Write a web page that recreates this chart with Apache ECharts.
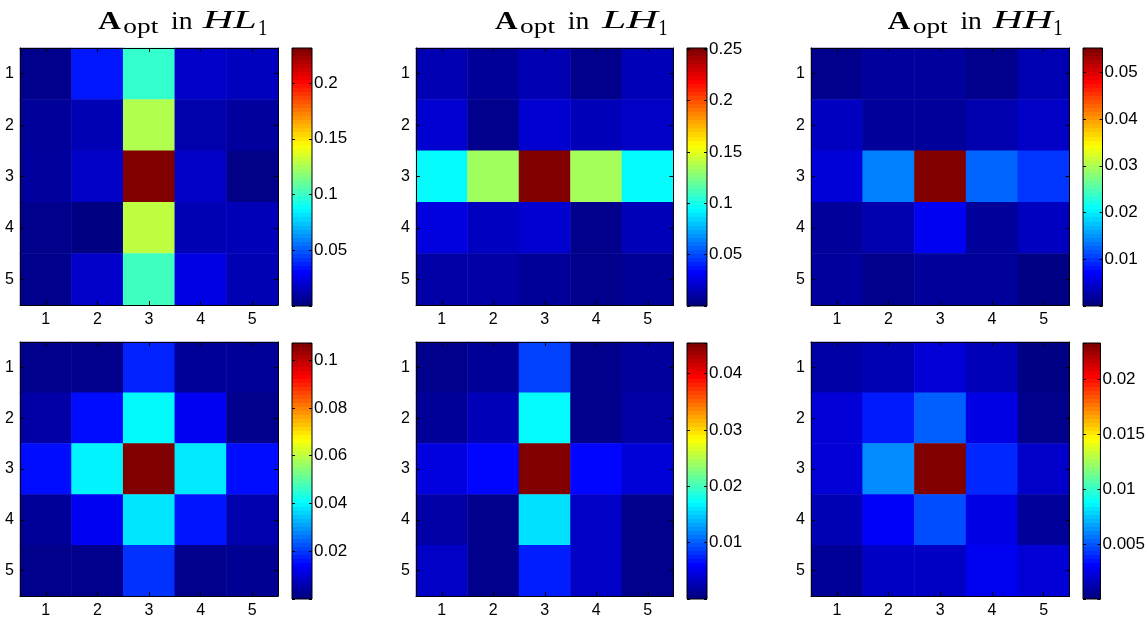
<!DOCTYPE html>
<html><head><meta charset="utf-8">
<script src="https://cdn.jsdelivr.net/npm/echarts@6/dist/echarts.min.js"></script>
<style>html,body{margin:0;padding:0;background:#fff}#c{width:1148px;height:619px}</style>
</head><body><div id="c"></div>
<script>
// ---------- data ----------
const xCats = ['1', '2', '3', '4', '5'];
const yCats = ['1', '2', '3', '4', '5'];
const titleBands = ['HL', 'LH', 'HH'];

// rows = y 1..5 (top to bottom), columns = x 1..5
const aHL1 = [
  [0.003, 0.034, 0.098, 0.017, 0.0145],
  [0.006, 0.012, 0.127, 0.010, 0.007],
  [0.007, 0.016, 0.2314, 0.016, 0.002],
  [0.003, 0.0005, 0.130, 0.012, 0.013],
  [0.003, 0.017, 0.101, 0.023, 0.012]
];
const aLH1 = [
  [0.0125, 0.006, 0.0125, 0.003, 0.014],
  [0.020, 0.003, 0.020, 0.014, 0.0175],
  [0.094, 0.1335, 0.251, 0.135, 0.094],
  [0.024, 0.016, 0.020, 0.003, 0.014],
  [0.0094, 0.0094, 0.006, 0.003, 0.006]
];
const aHH1 = [
  [0.0007, 0.0017, 0.0017, 0.0007, 0.0028],
  [0.0035, 0.0014, 0.0014, 0.0025, 0.0039],
  [0.0048, 0.0138, 0.0552, 0.0124, 0.0097],
  [0.0014, 0.0025, 0.0062, 0.0014, 0.0035],
  [0.0017, 0.0007, 0.0014, 0.0014, 0.0003]
];
const bLeft = [
  [0.0013, 0.0013, 0.0170, 0.0027, 0.0027],
  [0.004, 0.0147, 0.040, 0.012, 0.0013],
  [0.0147, 0.0389, 0.1072, 0.038, 0.0147],
  [0.0027, 0.012, 0.0375, 0.0155, 0.005],
  [0.0013, 0.0013, 0.0185, 0.0013, 0.0019]
];
const bMid = [
  [0.0006, 0.0011, 0.0085, 0.0006, 0.0014],
  [0.0011, 0.0025, 0.017, 0.0006, 0.0017],
  [0.0043, 0.0059, 0.0454, 0.0059, 0.0040],
  [0.0017, 0.0006, 0.0157, 0.0032, 0.0006],
  [0.0032, 0.0006, 0.007, 0.0032, 0.0006]
];
const bRight = [
  [0.0009, 0.0012, 0.002, 0.0013, 0.0001],
  [0.002, 0.0035, 0.0051, 0.0023, 0.0003],
  [0.002, 0.0061, 0.0233, 0.0038, 0.0017],
  [0.0012, 0.0028, 0.0047, 0.0023, 0.0006],
  [0.0005, 0.0016, 0.0016, 0.0026, 0.002]
];
const panels = [aHL1, aLH1, aHH1, bLeft, bMid, bRight];
const cbMin = [0, 0, 0, 0, 0, 0];
const cbMax = [0.2314, 0.251, 0.0552, 0.1072, 0.0454, 0.0233];
const cbInterval = [0.05, 0.05, 0.01, 0.02, 0.01, 0.005];

// ---------- style / layout ----------
function jet(t) {
  const c = v => Math.max(0, Math.min(1, v));
  const r = c(1.5 - Math.abs(4 * t - 3)), g = c(1.5 - Math.abs(4 * t - 2)), b = c(1.5 - Math.abs(4 * t - 1));
  const h = v => Math.round(v * 255).toString(16).padStart(2, '0');
  return '#' + h(r) + h(g) + h(b);
}
const jet64 = [];
for (let i = 0; i < 64; i++) jet64.push(jet(i / 63));
const gradStops = [];
for (let i = 0; i < 64; i++) {
  gradStops.push({ offset: i / 64, color: jet64[i] });
  gradStops.push({ offset: (i + 1) / 64, color: jet64[i] });
}

const heatLeft = [20, 416, 811], heatWidth = [258, 257.5, 258.5];
const cbLeft = [292, 687, 1083], cbWidth = [20, 20, 19.5];
const heatTop = [48, 342], heatHeight = [257, 256];
const cbTop = [48, 343], cbHeight = [258, 256];

const LBL = { fontFamily: 'Liberation Sans, Arial, sans-serif', color: '#000' };
const grid = [], xAxis = [], yAxis = [], series = [], visualMap = [];
const lineStyle = { color: '#000', width: 1 };
const hiddenLine = { show: false, onZero: false };

panels.forEach((mat, i) => {
  const col = i % 3, row = Math.floor(i / 3);
  grid.push({ left: heatLeft[col], top: heatTop[row], width: heatWidth[col], height: heatHeight[row] });
  grid.push({
    left: cbLeft[col], top: cbTop[row], width: cbWidth[col], height: cbHeight[row], show: true,
    borderColor: '#000', borderWidth: 1,
    backgroundColor: { type: 'linear', x: 0, y: 1, x2: 0, y2: 0, colorStops: gradStops }
  });
  const hg = 2 * i, cg = 2 * i + 1;
  const catTick = { show: true, inside: true, length: 4, alignWithLabel: true, lineStyle };
  const axLine = { show: true, onZero: false, lineStyle };
  xAxis.push({ gridIndex: hg, type: 'category', data: xCats, position: 'bottom', z: 10,
    axisLine: axLine, axisTick: catTick,
    axisLabel: Object.assign({ fontSize: 16, margin: 7 }, LBL), splitLine: { show: false } });
  xAxis.push({ gridIndex: hg, type: 'category', data: xCats, position: 'top', z: 10,
    axisLine: axLine, axisTick: catTick, axisLabel: { show: false }, splitLine: { show: false } });
  xAxis.push({ gridIndex: cg, type: 'value', min: 0, max: 1, position: 'bottom',
    axisLine: hiddenLine, axisTick: { show: false }, axisLabel: { show: false }, splitLine: { show: false } });
  xAxis.push({ gridIndex: cg, type: 'value', min: 0, max: 1, position: 'top',
    axisLine: hiddenLine, axisTick: { show: false }, axisLabel: { show: false }, splitLine: { show: false } });

  yAxis.push({ gridIndex: hg, type: 'category', data: yCats, inverse: true, position: 'left', z: 10,
    axisLine: axLine, axisTick: catTick,
    axisLabel: Object.assign({ fontSize: 16, margin: 6 }, LBL), splitLine: { show: false } });
  yAxis.push({ gridIndex: hg, type: 'category', data: yCats, inverse: true, position: 'right', z: 10,
    axisLine: axLine, axisTick: catTick, axisLabel: { show: false }, splitLine: { show: false } });
  const iv = cbInterval[i];
  const cbTick = {
    show: true, inside: true, length: 3, lineStyle,
    interval: (idx, v) => { const k = Number(v) / iv; return Number(v) > 0 && Math.abs(k - Math.round(k)) < 1e-6; }
  };
  yAxis.push({ gridIndex: cg, type: 'value', min: cbMin[i], max: cbMax[i], interval: iv, position: 'left', z: 10,
    axisLine: hiddenLine, axisTick: cbTick, axisLabel: { show: false }, splitLine: { show: false } });
  yAxis.push({ gridIndex: cg, type: 'value', min: cbMin[i], max: cbMax[i], interval: iv, position: 'right', z: 10,
    axisLine: hiddenLine, axisTick: cbTick,
    axisLabel: Object.assign({
      fontSize: 17, margin: 2,
      formatter: v => {
        const k = v / iv;
        if (v <= 0 || Math.abs(k - Math.round(k)) > 1e-6) return '';
        return String(+v.toFixed(4));
      }
    }, LBL), splitLine: { show: false } });

  const data = [];
  mat.forEach((r, yi) => r.forEach((v, xi) => data.push([xi, yi, v])));
  series.push({ type: 'heatmap', xAxisIndex: 4 * i, yAxisIndex: 4 * i, data,
    itemStyle: { borderWidth: 0 }, emphasis: { disabled: true }, progressive: 0, animation: false });
  visualMap.push({ type: 'continuous', show: false, seriesIndex: i, dimension: 2,
    min: cbMin[i], max: cbMax[i], inRange: { color: jet64 } });
});

// ---------- titles (LaTeX-like, wide Computer Modern look via horizontal scaling) ----------
const serif = '"Liberation Serif", "Times New Roman", serif';
const mctx = document.createElement('canvas').getContext('2d');
const titleX = [98.3, 495, 887.7];
const bandOff = [104.4, 107, 105];
const bandW = [54, 56, 60];
const oneOff = [159.7, 163.3, 165.6];
function piece(text, weight, style, fs, x, w, baseline) {
  const font = style + ' ' + weight + ' ' + fs + 'px ' + serif;
  mctx.font = font;
  const mw = mctx.measureText(text).width;
  return {
    type: 'text', x: x, y: baseline - fs * 0.8375, scaleX: w / mw, scaleY: 1, silent: true,
    style: { text: text, font: font, fill: '#000', align: 'left', verticalAlign: 'top' }
  };
}
const graphic = [];
titleBands.forEach((b, k) => {
  const x0 = titleX[k];
  graphic.push(piece('A', 'bold', 'normal', 26, x0, 22.5, 30.7));
  graphic.push(piece('opt', 'normal', 'normal', 22, x0 + 25, 35, 34.3));
  graphic.push(piece('in', 'normal', 'normal', 26, x0 + 72.7, 21.5, 30.7));
  graphic.push(piece(b, 'normal', 'italic', 25, x0 + bandOff[k], bandW[k], 30.2));
  graphic.push(piece('1', 'normal', 'normal', 23, x0 + oneOff[k], 9.5, 37));
});

const chart = echarts.init(document.getElementById('c'), null, { renderer: 'canvas' });
chart.setOption({ animation: false, backgroundColor: '#fff', grid, xAxis, yAxis, series, visualMap, graphic, tooltip: { show: false } });
</script></body></html>
